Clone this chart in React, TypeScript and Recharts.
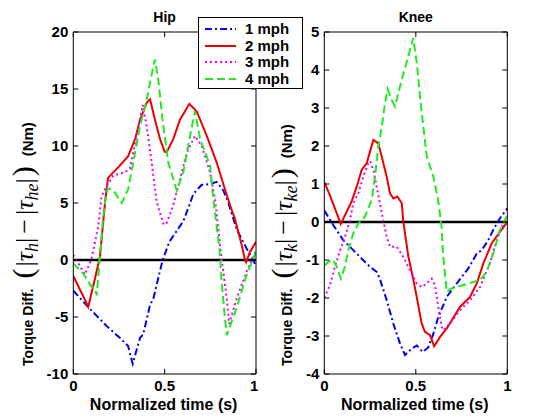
import React from 'react';
import { LineChart, Line, XAxis, YAxis, ReferenceLine, Legend } from 'recharts';

const FONT = '"Liberation Sans", Arial, Helvetica, sans-serif';
const SERIF = '"Liberation Serif", "DejaVu Serif", serif';

const speedLabels = ['1 mph', '2 mph', '3 mph', '4 mph'];
const timeTicks = [0, 0.5, 1];
const hipTicks = [-10, -5, 0, 5, 10, 15, 20];
const kneeTicks = [-4, -3, -2, -1, 0, 1, 2, 3, 4, 5];

// Hip: [normalized time, torque diff]
const hip1 = [[0,-2.7],[0.086,-4.2],[0.183,-5.8],[0.256,-6.85],[0.30,-7.55],[0.325,-9.1],[0.365,-6.85],[0.383,-6.5],[0.42,-3.95],[0.438,-3.4],[0.489,0],[0.526,1.6],[0.547,2.1],[0.602,3.4],[0.635,4.8],[0.657,5.8],[0.703,6.6],[0.748,6.65],[0.785,6.85],[0.821,6.1],[0.845,5.2],[0.894,2.7],[0.949,1.0],[1.0,-0.5]];
const hip2 = [[0,-1.4],[0.082,-4.1],[0.119,-1.6],[0.146,0.3],[0.174,5.1],[0.19,7.2],[0.256,8.3],[0.30,9.1],[0.338,10.6],[0.365,12.3],[0.402,13.8],[0.42,14.1],[0.447,12.3],[0.475,10.6],[0.50,9.5],[0.511,9.45],[0.547,10.6],[0.584,12.3],[0.635,13.7],[0.675,13.05],[0.73,10.9],[0.785,8.55],[0.83,6.2],[0.858,4.8],[0.885,3.6],[0.922,1.3],[0.94,0],[0.946,-0.2],[0.967,0.7],[1.0,1.6]];
const hip3 = [[0,0.45],[0.064,-1.27],[0.10,0.1],[0.137,3.0],[0.155,5.6],[0.183,6.5],[0.219,7.4],[0.283,7.7],[0.31,8.0],[0.347,10.9],[0.38,13.6],[0.402,11.7],[0.429,8.55],[0.456,5.1],[0.495,3.1],[0.51,3.2],[0.547,4.8],[0.584,7.1],[0.621,9.4],[0.666,10.9],[0.703,10.0],[0.748,7.7],[0.776,5.3],[0.794,2.7],[0.812,0.1],[0.84,-3.4],[0.853,-5.6],[0.894,-3.4],[0.949,-1.0],[1.0,0.8]];
const hip4 = [[0,-0.3],[0.055,-1.2],[0.10,-2.35],[0.119,-2.5],[0.128,-3.1],[0.146,0.4],[0.164,3.9],[0.174,5.1],[0.188,6.3],[0.219,6.1],[0.265,5.0],[0.30,6.2],[0.328,8.55],[0.365,11.7],[0.402,14.1],[0.438,17.0],[0.447,17.6],[0.465,15.8],[0.493,11.7],[0.52,8.55],[0.547,7.1],[0.566,6.1],[0.602,7.7],[0.639,10.9],[0.666,13.05],[0.694,10.6],[0.73,9.1],[0.748,8.3],[0.766,5.35],[0.80,1.0],[0.812,-1.9],[0.83,-5.1],[0.84,-6.6],[0.894,-4.2],[0.949,-1.3],[1.0,0.7]];

// Knee: [normalized time, torque diff]
const knee1 = [[0,0.3],[0.049,-0.08],[0.104,-0.48],[0.15,-0.7],[0.195,-0.92],[0.25,-1.18],[0.286,-1.31],[0.304,-1.5],[0.341,-2.06],[0.377,-2.67],[0.414,-3.2],[0.441,-3.5],[0.478,-3.33],[0.505,-3.25],[0.538,-3.42],[0.568,-3.3],[0.596,-2.94],[0.623,-2.5],[0.669,-1.97],[0.723,-1.62],[0.787,-1.22],[0.833,-0.83],[0.86,-0.74],[0.896,-0.48],[0.923,-0.21],[0.96,0.1],[1.0,0.36]];
const knee2 = [[0,1.05],[0.031,0.7],[0.09,-0.05],[0.15,0.55],[0.177,0.93],[0.204,1.37],[0.232,1.55],[0.268,2.16],[0.295,2.07],[0.314,1.72],[0.341,1.19],[0.359,0.76],[0.377,0.62],[0.399,0.67],[0.423,0.5],[0.432,0.0],[0.459,-0.9],[0.486,-1.5],[0.505,-1.97],[0.532,-2.67],[0.55,-2.89],[0.578,-2.98],[0.6,-3.27],[0.632,-3.03],[0.669,-2.8],[0.742,-2.23],[0.796,-1.97],[0.833,-1.62],[0.869,-1.09],[0.915,-0.56],[0.96,-0.26],[1.0,0.0]];
const knee3 = [[0,-2.0],[0.031,-1.66],[0.058,-1.18],[0.086,-0.74],[0.113,-0.39],[0.14,0.05],[0.158,0.49],[0.186,0.76],[0.213,1.19],[0.24,1.55],[0.25,1.6],[0.268,1.37],[0.286,0.93],[0.304,0.5],[0.322,0.05],[0.341,-0.39],[0.359,-0.65],[0.396,-0.65],[0.432,-0.92],[0.468,-1.27],[0.505,-1.62],[0.532,-1.71],[0.559,-1.62],[0.587,-1.49],[0.605,-1.66],[0.623,-2.23],[0.642,-2.76],[0.65,-2.85],[0.687,-2.67],[0.742,-2.32],[0.796,-2.06],[0.851,-1.71],[0.905,-1.09],[0.942,-0.48],[0.969,-0.13],[1.0,0.14]];
const knee4 = [[0,-1.15],[0.022,-1.05],[0.049,-1.0],[0.068,-1.18],[0.09,-1.49],[0.113,-1.18],[0.131,-0.74],[0.158,-0.3],[0.186,-0.04],[0.222,0.14],[0.259,0.58],[0.277,1.19],[0.295,1.98],[0.314,2.51],[0.332,3.13],[0.346,3.5],[0.368,3.22],[0.386,3.04],[0.423,3.74],[0.459,4.36],[0.486,4.84],[0.505,4.2],[0.523,3.3],[0.541,2.51],[0.56,1.72],[0.596,1.19],[0.623,0.55],[0.641,-0.13],[0.65,-0.92],[0.669,-1.84],[0.696,-1.75],[0.76,-1.66],[0.814,-1.58],[0.851,-1.53],[0.887,-1.31],[0.923,-0.83],[0.96,-0.21],[1.0,0.18]];

const lineStyles = [
  { color: '#0000ee', dash: '7 3 2 3' },
  { color: '#ee0000', dash: undefined as string | undefined },
  { color: '#ee00ee', dash: '2 3' },
  { color: '#22e822', dash: '8 4' },
];

const toPoints = (arr: number[][]) => arr.map(([t, v]) => ({ t, v }));

const tickStyle = { fill: '#000', fontSize: 15, fontWeight: 'bold', fontFamily: FONT };
const noTick = () => <g />;

const makeYLabel = (j: string, k: string, off: number) => (props: any) => {
  const vb = props.viewBox || { x: 0, y: 0, width: 0, height: 0 };
  const x = vb.x + off;
  const y = vb.y + vb.height - 8;
  const m = { fontFamily: SERIF, fontSize: 26 };
  const sub = { fontFamily: SERIF, fontSize: 18, fontStyle: 'italic' as const };
  return (
    <text transform={`translate(${x},${y}) rotate(-90)`} fill="#000">
      <tspan fontFamily={FONT} fontWeight="bold" fontSize={14}>Torque Diff.</tspan>
      <tspan dx={10} fontFamily={SERIF} fontSize={30}>(</tspan>
      <tspan dx={2} {...m}>|</tspan>
      <tspan {...m} fontStyle="italic">τ</tspan>
      <tspan {...sub} dy={5}>{j}</tspan>
      <tspan {...m} dy={-5}>|</tspan>
      <tspan {...m} dx={4}>−</tspan>
      <tspan {...m} dx={4}>|</tspan>
      <tspan {...m} fontStyle="italic">τ</tspan>
      <tspan {...sub} dy={5}>{k}</tspan>
      <tspan {...m} dy={-5}>|</tspan>
      <tspan dx={2} fontFamily={SERIF} fontSize={30}>)</tspan>
      <tspan dx={10} fontFamily={FONT} fontWeight="bold" fontSize={15}>(Nm)</tspan>
    </text>
  );
};

const makeTitle = (title: string) => (props: any) => {
  const vb = props.viewBox || { x: 0, y: 0, width: 0, height: 0 };
  return (
    <text x={vb.x + vb.width / 2} y={22} textAnchor="middle" fill="#000" fontFamily={FONT} fontWeight="bold" fontSize={14}>{title}</text>
  );
};

const xLabel = (props: any) => {
  const vb = props.viewBox || { x: 0, y: 0, width: 0, height: 0 };
  return (
    <text x={vb.x + vb.width / 2 - 1} y={410} textAnchor="middle" fill="#000" fontFamily={FONT} fontWeight="bold" fontSize={16}>Normalized time (s)</text>
  );
};

const legendContent = () => (
  <div style={{ width: 105, height: 72, boxSizing: 'border-box', border: '1px solid #000', background: '#fff', paddingTop: 3 }}>
    {speedLabels.map((lab, i) => (
      <div key={lab} style={{ display: 'flex', alignItems: 'center', height: 16.6 }}>
        <svg width={46} height={16} style={{ display: 'block' }}>
          <line x1={6} x2={37} y1={8} y2={8} stroke={lineStyles[i].color} strokeWidth={2} strokeDasharray={lineStyles[i].dash} />
        </svg>
        <span style={{ fontFamily: FONT, fontWeight: 'bold', fontSize: 15, color: '#000', lineHeight: '16px' }}>{lab}</span>
      </div>
    ))}
  </div>
);

type PanelProps = {
  left: number;
  width: number;
  margin: { top: number; right: number; bottom: number; left: number };
  title: string;
  yTicks: number[];
  series: number[][][];
  sub1: string;
  sub2: string;
  labelOff: number;
  legend?: boolean;
};

function Panel({ left, width, margin, title, yTicks, series, sub1, sub2, labelOff, legend }: PanelProps) {
  const domain = [yTicks[0], yTicks[yTicks.length - 1]];
  return (
    <div style={{ position: 'absolute', left, top: 0 }}>
      <LineChart width={width} height={420} margin={margin}>
        <XAxis xAxisId="b" dataKey="t" type="number" domain={[0, 1]} ticks={timeTicks} allowDataOverflow
          height={30} tickSize={-5} tickMargin={11} tick={tickStyle} stroke="#000"
          tickLine={{ stroke: '#000' }} axisLine={{ stroke: '#000' }} label={xLabel} />
        <XAxis xAxisId="top" orientation="top" dataKey="t" type="number" domain={[0, 1]} ticks={timeTicks} allowDataOverflow
          height={1} tickSize={-5} tick={noTick} stroke="#000" label={makeTitle(title)} />
        <YAxis yAxisId="l" type="number" domain={domain} ticks={yTicks} allowDataOverflow interval={0}
          width={40} tickSize={-5} tickMargin={10} tick={tickStyle} stroke="#000" label={makeYLabel(sub1, sub2, labelOff)} />
        <YAxis yAxisId="r" orientation="right" type="number" domain={domain} ticks={yTicks} allowDataOverflow interval={0}
          width={1} tickSize={-5} tick={noTick} stroke="#000" />
        <ReferenceLine xAxisId="b" yAxisId="l" y={0} stroke="#000" strokeWidth={2.5} />
        {series.map((s, i) => (
          <Line key={i} xAxisId="b" yAxisId="l" data={toPoints(s)} dataKey="v" name={speedLabels[i]}
            type="linear" stroke={lineStyles[i].color} strokeWidth={2} strokeDasharray={lineStyles[i].dash}
            dot={false} activeDot={false} isAnimationActive={false} />
        ))}
        {legend && (
          <Legend layout="horizontal" verticalAlign="middle" align="center" content={legendContent}
            wrapperStyle={{ left: 198, top: 17, width: 105, height: 72, zIndex: 10 }} />
        )}
      </LineChart>
    </div>
  );
}

export default function App() {
  return (
    <div style={{ position: 'absolute', left: 0, top: 0, width: 560, height: 420, background: '#fff', overflow: 'hidden' }}>
      <Panel left={258} width={302} margin={{ top: 31, right: 51.7, bottom: 16, left: 26.3 }} title="Knee" yTicks={kneeTicks}
        series={[knee1, knee2, knee3, knee4]} sub1="k" sub2="ke" labelOff={7.7} />
      <Panel left={0} width={258} margin={{ top: 31, right: 1, bottom: 16, left: 33.3 }} title="Hip" yTicks={hipTicks}
        series={[hip1, hip2, hip3, hip4]} sub1="h" sub2="he" labelOff={0} legend />
    </div>
  );
}
